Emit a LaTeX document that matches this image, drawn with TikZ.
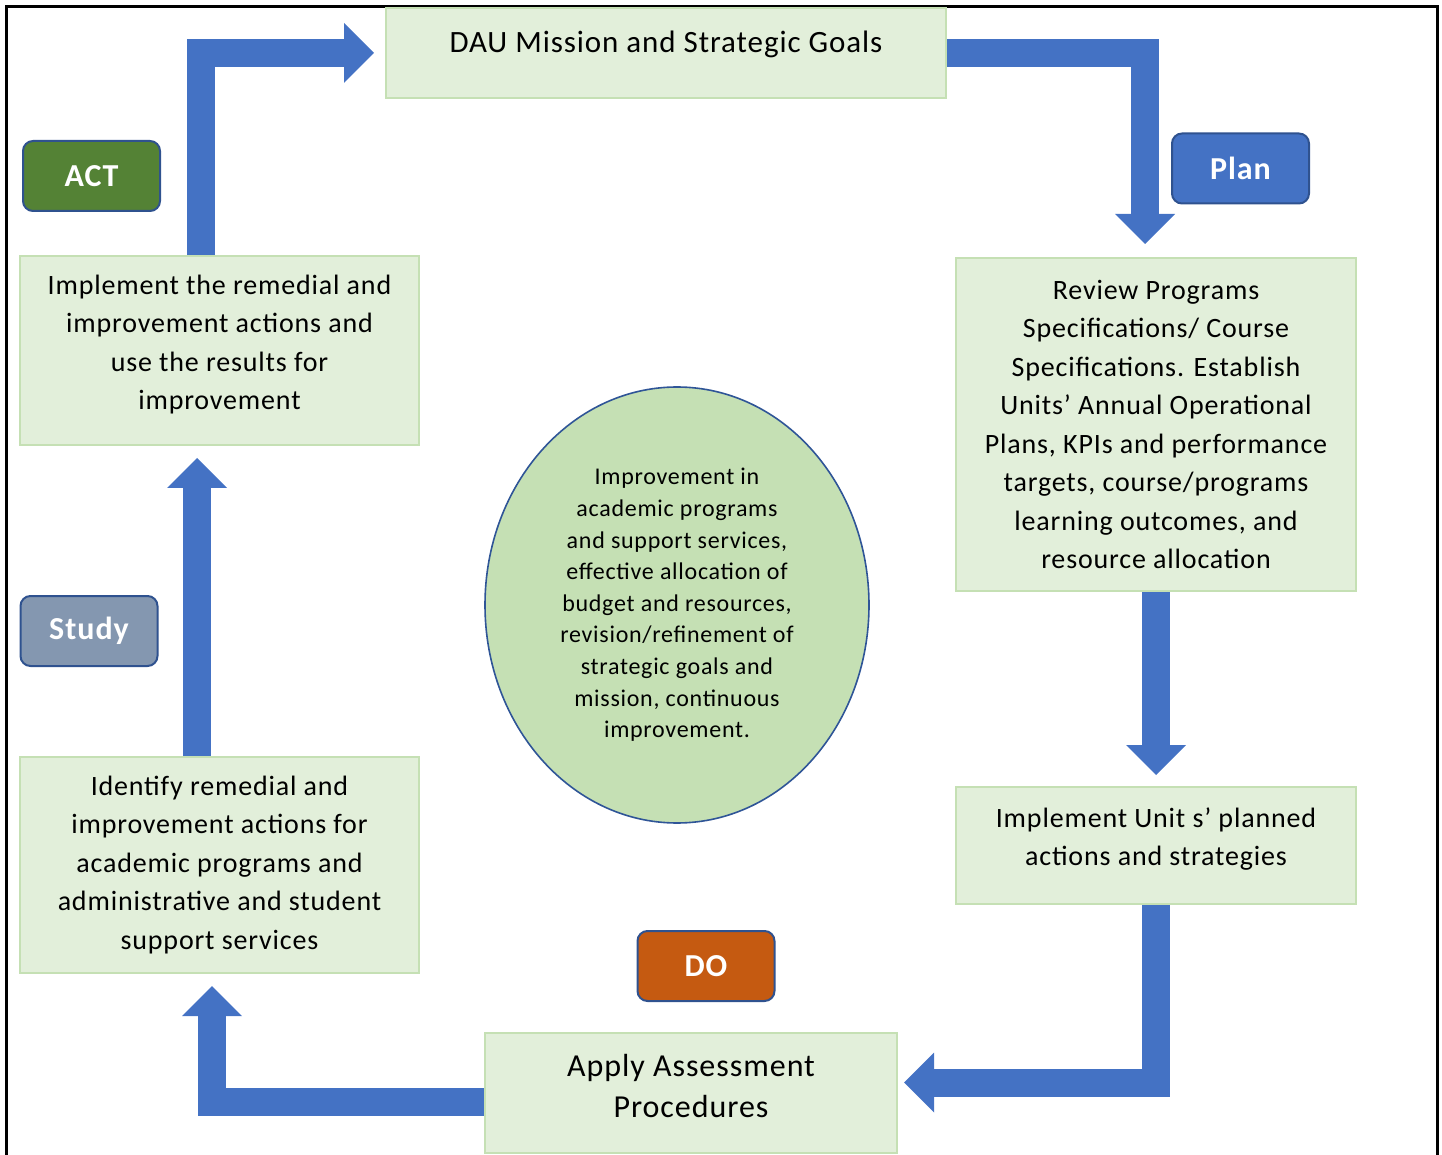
\documentclass[tikz,border=0pt]{standalone}
\usepackage{fontspec}
\setmainfont{Carlito}[LetterSpace=3]
\usepackage{xcolor}
\usetikzlibrary{arrows.meta,shapes.geometric}
\definecolor{boxfill}{HTML}{E2EFDA}
\definecolor{boxline}{HTML}{C5E0B4}
\definecolor{loopblue}{HTML}{4472C4}
\definecolor{tagline}{HTML}{2F528F}
\definecolor{actgreen}{HTML}{548235}
\definecolor{studygray}{HTML}{8497B0}
\definecolor{doorange}{HTML}{C55A11}
\definecolor{hubfill}{HTML}{C5E0B4}
\definecolor{hubline}{HTML}{2F5597}
\newcommand{\lowpad}[1]{\rule[-#1]{0pt}{#1}}

\begin{document}
\begin{tikzpicture}[x=0.5pt,y=-0.5pt,
  stage/.style={draw=boxline,fill=boxfill,line width=1pt,align=center,inner sep=0pt,
                font=\fontsize{14}{19.25}\selectfont},
  phase/.style={draw=tagline,line width=1pt,rounded corners=5pt,minimum width=68.5pt,
                minimum height=35pt,text=white,font=\fontsize{16}{19}\selectfont\bfseries},
  loop/.style={loopblue,line width=14pt,line join=miter,
               -{Triangle[length=15pt,width=30pt,line width=0pt]}}]

\useasboundingbox (0,0) rectangle (1442,1155);
\draw[line width=1.5pt] (6.5,1155) |- (1437,6.5) -- (1437,1155);

% stages of the cycle
\node[stage,minimum width=280pt,minimum height=45pt,text height=10pt,text depth=10pt,
      font=\fontsize{15.5}{19}\selectfont]
  (goal) at (666,53) {DAU Mission and Strategic Goals};
\node[stage,minimum width=200pt,minimum height=166.5pt] (review) at (1156,424.5)
  {Review Programs\\Specifications/ Course\\Specifications. Establish\\Units’ Annual Operational\\
   Plans, KPIs and performance\\targets, course/programs\\learning outcomes, and\\resource allocation};
\node[stage,minimum width=200pt,minimum height=58.5pt] (unit) at (1156,845.5)
  {Implement Unit s’ planned\\actions and strategies\lowpad{9pt}};
\node[stage,minimum width=206pt,minimum height=60pt,font=\fontsize{16}{20.5}\selectfont]
  (apply) at (691,1093) {Apply Assessment\\Procedures\lowpad{7pt}};
\node[stage,minimum width=199.5pt,minimum height=108pt] (ident) at (219.5,865)
  {Identify remedial and\\improvement actions for\\academic programs and\\administrative and student\\support services};
\node[stage,minimum width=199.5pt,minimum height=94.5pt] (impl) at (219.5,350.5)
  {Implement the remedial and\\improvement actions and\\use the results for\\improvement\lowpad{8pt}};

% centre
\node[ellipse,draw=hubline,fill=hubfill,line width=0.8pt,minimum width=192pt,minimum height=218pt,
      inner sep=0pt,align=center,font=\fontsize{12}{15.8}\selectfont] (hub) at (677,605)
  {Improvement in\\academic programs\\and support services,\\effective allocation of\\budget and resources,\\
   revision/refinement of\\strategic goals and\\mission, continuous\\improvement.};

% PDSA tags
\node[phase,fill=actgreen] (act) at (91.5,176) {ACT};
\node[phase,fill=loopblue] (plan) at (1240.5,168.5) {Plan};
\node[phase,fill=studygray] (study) at (89,631) {Study};
\node[phase,fill=doorange] (do) at (706,966) {DO};

% arrows
\draw[loop,shorten >=5.5pt] ([xshift=-9.25pt]impl.north) |- (goal.west);
\draw[loop,shorten >=6.5pt] (goal.east) -| ([xshift=-5.5pt]review.north);
\draw[loop,shorten >=5.5pt] (review) -- (unit);
\draw[loop,shorten >=3pt] (unit.south) |- ([yshift=5.25pt]apply.east);
\draw[loop,shorten >=6pt] ([yshift=-4.5pt]apply.west) -| ([xshift=-3.75pt]ident.south);
\draw[loop,shorten >=6pt] ([xshift=-11.25pt]ident.north) -- ([xshift=-11.25pt]impl.south);
\end{tikzpicture}
\end{document}
